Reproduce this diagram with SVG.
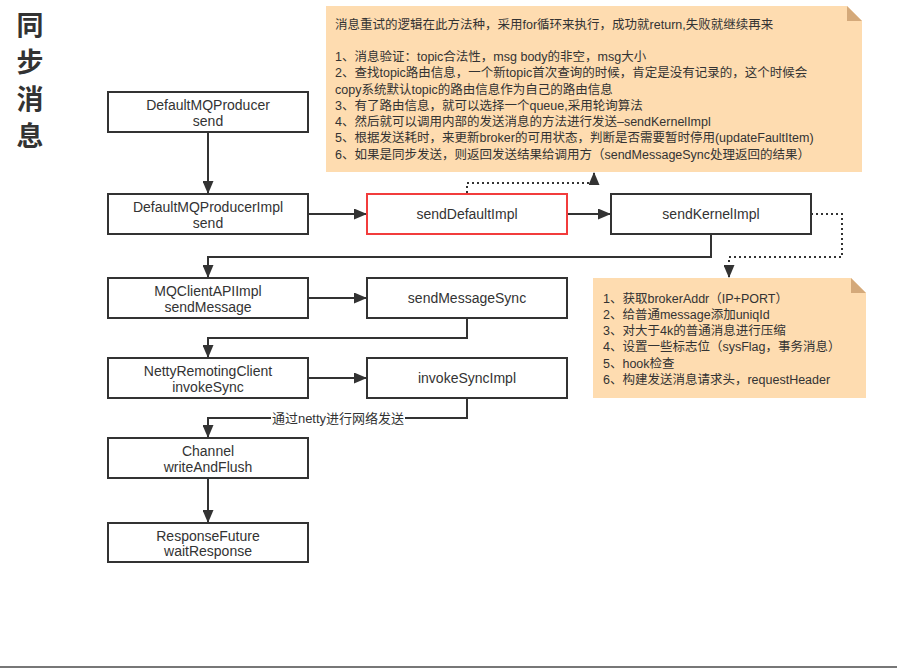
<svg xmlns="http://www.w3.org/2000/svg" width="897" height="668" viewBox="0 0 897 668">
<style>
.box{fill:#fff;stroke:#333;stroke-width:2}
.red{fill:#fff;stroke:#f23c3c;stroke-width:2}
.lbl{font-family:"Liberation Sans","Noto Sans CJK SC",sans-serif;font-size:14px;fill:#333;text-anchor:middle}
.note{fill:#fedcb0}
.fold{fill:#d4a97a}
.nt{font-family:"Liberation Sans","Noto Sans CJK SC",sans-serif;font-size:12.5px;fill:#333}
.c{fill:none;stroke:#333;stroke-width:2}
.d{fill:none;stroke:#333;stroke-width:2;stroke-dasharray:2 3}
.title{font-family:"Noto Sans CJK SC",sans-serif;font-size:27px;fill:#333;font-weight:bold;text-anchor:middle}
</style>
<defs>
<marker id="ah" markerUnits="userSpaceOnUse" markerWidth="13" markerHeight="11" refX="12" refY="5.5" orient="auto">
<path d="M0,0 L13,5.5 L0,11 Z" fill="#333"/>
</marker>
</defs>
<rect width="897" height="668" fill="#fff"/>
<g id="title">
<text class="title" x="30" y="35">同</text>
<text class="title" x="30" y="72">步</text>
<text class="title" x="30" y="109">消</text>
<text class="title" x="30" y="146">息</text>
</g>
<g id="note-top">
<path class="note" d="M326,6 H847 L862,21 V172 H326 Z"/>
<path class="fold" d="M847,6 L862,21 H847 Z"/>
<text class="nt" x="335" y="28.5">消息重试的逻辑在此方法种，采用for循环来执行，成功就return,失败就继续再来</text>
<text class="nt" x="335" y="61">1、消息验证：topic合法性，msg body的非空，msg大小</text>
<text class="nt" x="335" y="77.25">2、查找topic路由信息，一个新topic首次查询的时候，肯定是没有记录的，这个时候会</text>
<text class="nt" x="335" y="93.5">copy系统默认topic的路由信息作为自己的路由信息</text>
<text class="nt" x="335" y="109.75">3、有了路由信息，就可以选择一个queue,采用轮询算法</text>
<text class="nt" x="335" y="126">4、然后就可以调用内部的发送消息的方法进行发送–sendKernelImpl</text>
<text class="nt" x="335" y="142.25">5、根据发送耗时，来更新broker的可用状态，判断是否需要暂时停用(updateFaultItem)</text>
<text class="nt" x="335" y="158.5">6、如果是同步发送，则返回发送结果给调用方（sendMessageSync处理返回的结果）</text>
</g>
<g id="note-bottom">
<path class="note" d="M593,278 H851 L866,293 V398 H593 Z"/>
<path class="fold" d="M851,278 L866,293 H851 Z"/>
<text class="nt" x="603" y="302.8">1、获取brokerAddr（IP+PORT）</text>
<text class="nt" x="603" y="319">2、给普通message添加uniqId</text>
<text class="nt" x="603" y="335.2">3、对大于4k的普通消息进行压缩</text>
<text class="nt" x="603" y="351.4">4、设置一些标志位（sysFlag，事务消息）</text>
<text class="nt" x="603" y="367.6">5、hook检查</text>
<text class="nt" x="603" y="383.8">6、构建发送消息请求头，requestHeader</text>
</g>
<g id="connectors">
<path class="c" d="M208,132 V193" marker-end="url(#ah)"/>
<path class="c" d="M308,214 H366" marker-end="url(#ah)"/>
<path class="c" d="M567,214 H610" marker-end="url(#ah)"/>
<path class="c" d="M711,234 V257 H208 V277" marker-end="url(#ah)"/>
<path class="c" d="M308,298 H366" marker-end="url(#ah)"/>
<path class="c" d="M467,318 V338 H208 V357" marker-end="url(#ah)"/>
<path class="c" d="M308,378 H366" marker-end="url(#ah)"/>
<path class="c" d="M467,398 V418 H208 V437" marker-end="url(#ah)"/>
<path class="c" d="M208,478 V522" marker-end="url(#ah)"/>
<path class="d" d="M467,193 V183 H594 V173" marker-end="url(#ah)"/>
<path class="d" d="M811,214 H842 V257 H729 V277" marker-end="url(#ah)"/>
<rect x="271" y="410" width="134" height="16" fill="#fff"/>
<text x="338" y="423" font-family="'Liberation Sans','Noto Sans CJK SC',sans-serif" font-size="13" fill="#333" text-anchor="middle">通过netty进行网络发送</text>
</g>
<g id="n1"><rect class="box" x="108" y="92" width="200" height="40"/><text class="lbl" x="208" y="110">DefaultMQProducer</text><text class="lbl" x="208" y="125.5">send</text></g>
<g id="n2"><rect class="box" x="108" y="194" width="200" height="40"/><text class="lbl" x="208" y="212">DefaultMQProducerImpl</text><text class="lbl" x="208" y="227.5">send</text></g>
<g id="n3"><rect class="red" x="367" y="194" width="200" height="40"/><text class="lbl" x="467" y="219">sendDefaultImpl</text></g>
<g id="n4"><rect class="box" x="611" y="194" width="200" height="40"/><text class="lbl" x="711" y="219">sendKernelImpl</text></g>
<g id="n5"><rect class="box" x="108" y="278" width="200" height="40"/><text class="lbl" x="208" y="296">MQClientAPIImpl</text><text class="lbl" x="208" y="311.5">sendMessage</text></g>
<g id="n6"><rect class="box" x="367" y="278" width="200" height="40"/><text class="lbl" x="467" y="303">sendMessageSync</text></g>
<g id="n7"><rect class="box" x="108" y="358" width="200" height="40"/><text class="lbl" x="208" y="376">NettyRemotingClient</text><text class="lbl" x="208" y="391.5">invokeSync</text></g>
<g id="n8"><rect class="box" x="367" y="358" width="200" height="40"/><text class="lbl" x="467" y="383">invokeSyncImpl</text></g>
<g id="n9"><rect class="box" x="108" y="438" width="200" height="40"/><text class="lbl" x="208" y="456">Channel</text><text class="lbl" x="208" y="471.5">writeAndFlush</text></g>
<g id="n10"><rect class="box" x="108" y="523" width="200" height="39"/><text class="lbl" x="208" y="540.5">ResponseFuture</text><text class="lbl" x="208" y="556">waitResponse</text></g>
<line x1="0" y1="667" x2="897" y2="667" stroke="#777" stroke-width="2"/>
</svg>
